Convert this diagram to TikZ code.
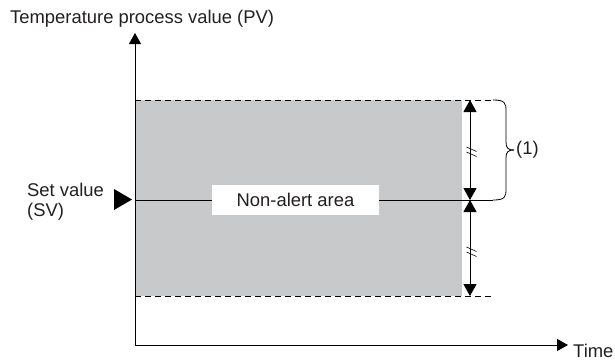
\documentclass[tikz,border=0pt]{standalone}
\usepackage{fontspec}
\setmainfont{Liberation Sans}
\usetikzlibrary{arrows.meta}
\definecolor{areagray}{RGB}{200,201,203}
\definecolor{txt}{RGB}{35,31,32}
\tikzset{
  lbl/.style={font=\fontsize{18.4}{18.4}\selectfont, text=txt, inner sep=0pt},
  axisline/.style={line width=1pt, -{Triangle[length=11pt,width=12pt]}},
  dimline/.style={line width=1pt, {Triangle[length=12pt,width=13pt]}-{Triangle[length=12pt,width=13pt]}},
  dashline/.style={line width=0.9pt, dash pattern=on 6pt off 4pt},
  thin/.style={line width=0.8pt}
}
\begin{document}
\begin{tikzpicture}[x=1pt,y=-1pt]
\useasboundingbox (0,0) rectangle (615,360);
% coordinates
\coordinate (O) at (135,345);
\coordinate (Ytop) at (135,33);
\coordinate (Xend) at (568,345);
\coordinate (topL) at (135,100);
\coordinate (topR) at (493,100);
\coordinate (midL) at (135,200);
\coordinate (midR) at (493,200);
\coordinate (botL) at (135,296);
\coordinate (botR) at (493,296);
\coordinate (dTop) at (470,100);
\coordinate (dMid) at (470,200);
\coordinate (dBot) at (470,296);
\coordinate (brTip) at (514,150);
% gray area
\fill[areagray] (135,100) rectangle (462,296);
% dashed limits
\draw[dashline] (topL) -- (topR);
\draw[dashline] (botL) -- (botR);
% set value line
\draw[thin] (midL) -- (midR);
% non-alert label
\node[lbl, fill=white, minimum width=167pt, minimum height=30pt, inner sep=0pt] (na) at (295.5,200) {Non-alert area};
% axes
\draw[axisline] (O) -- (Ytop);
\draw[axisline] (O) -- (Xend);
% dimension arrows
\draw[dimline] (dTop) -- (dMid);
\draw[dimline] (dMid) -- (dBot);
% break marks
\foreach \y in {147,152}{\draw[line width=0.6pt] (466.5,\y) -- (476.5,\y+4.5);}
\foreach \y in {247,252}{\draw[line width=0.6pt] (466.5,\y) -- (476.5,\y+4.5);}
% brace
\draw[thin] (topR) .. controls (505,100) and (506,103) .. (506,111) -- (506,142) .. controls (506,148) and (508,150) .. (brTip);
\draw[thin] (midR) .. controls (505,200) and (506,197) .. (506,189) -- (506,158) .. controls (506,152) and (508,150) .. (brTip);
\node[lbl, anchor=west] (one) at (516,150) {(1)};
% set value marker
\fill[black] (114,189) -- (114,210) -- (132,199.5) -- cycle;
\node[lbl, anchor=base west] (sv) at (27,196.5) {Set value};
\node[lbl, anchor=base west] (sv2) at (27,216.5) {(SV)};
% titles
\node[lbl, anchor=base west] (pv) at (10,23.5) {Temperature process value (PV)};
\node[lbl, anchor=base west] (time) at (573,357) {Time};
\end{tikzpicture}
\end{document}
